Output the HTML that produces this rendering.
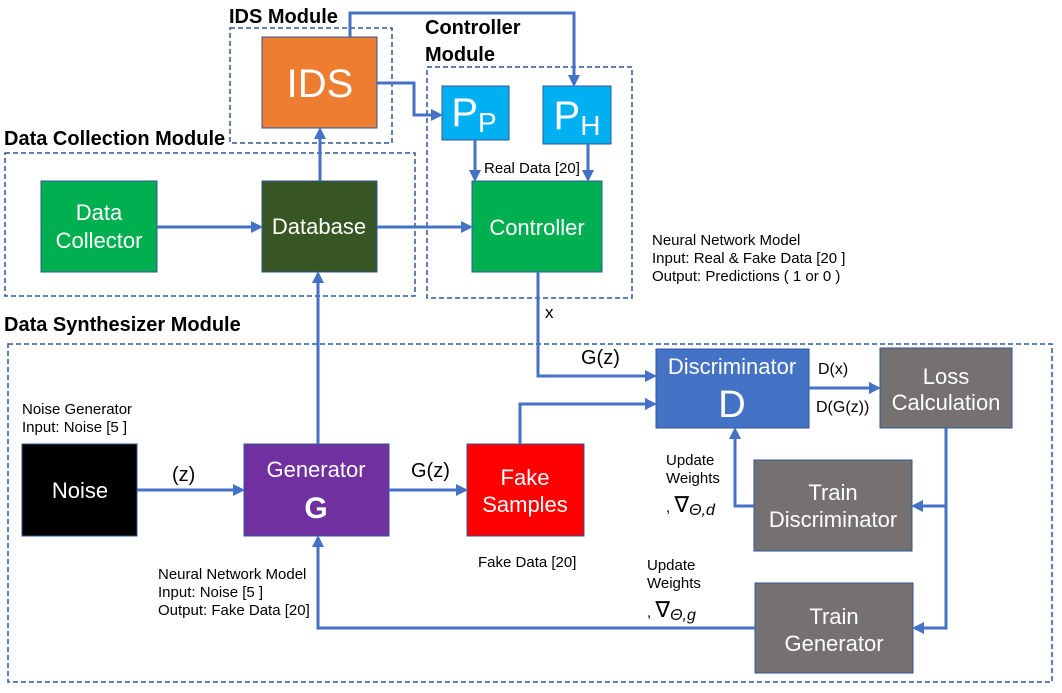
<!DOCTYPE html>
<html><head><meta charset="utf-8"><style>
body{margin:0;background:#fff}
svg text{font-family:"Liberation Sans",Arial,sans-serif}
</style></head><body>
<svg width="1062" height="688" viewBox="0 0 1062 688" xmlns="http://www.w3.org/2000/svg">
<defs><marker id="a" markerWidth="12" markerHeight="12" refX="9" refY="6" orient="auto" markerUnits="userSpaceOnUse" viewBox="0 0 12 12"><path d="M0,0 L12,6 L0,12 z" fill="#4472C4"/></marker></defs>
<g fill="none" stroke="#2F5597" stroke-width="1.5" stroke-dasharray="5,3">
<rect x="230" y="28" width="162" height="115"/>
<rect x="427" y="67" width="205" height="231"/>
<rect x="5" y="153" width="410" height="143"/>
<rect x="8" y="344" width="1044" height="338"/>
</g>
<g font-weight="bold" font-size="20" fill="#000">
<text x="229" y="23">IDS Module</text>
<text x="425" y="34">Controller</text>
<text x="425" y="61">Module</text>
<text x="4" y="145">Data Collection Module</text>
<text x="4" y="331">Data Synthesizer Module</text>
</g>
<g stroke="#2F5597" stroke-width="1">
<rect x="262" y="37" width="115" height="91" fill="#ED7D31"/>
<rect x="442" y="86" width="67" height="54" fill="#00B0F0"/>
<rect x="543" y="86" width="68" height="58" fill="#00B0F0"/>
<rect x="41" y="181" width="116" height="91" fill="#00B050"/>
<rect x="262" y="181" width="115" height="91" fill="#375623"/>
<rect x="472" y="181" width="130" height="91" fill="#00B050"/>
<rect x="22" y="444" width="115" height="92" fill="#000"/>
<rect x="244" y="444" width="145" height="92" fill="#7030A0"/>
<rect x="467" y="444" width="117" height="92" fill="#FF0000"/>
<rect x="656" y="349" width="153" height="79" fill="#4472C4"/>
<rect x="880" y="348" width="132" height="80" fill="#767171"/>
<rect x="754" y="460" width="158" height="91" fill="#767171"/>
<rect x="755" y="583" width="158" height="90" fill="#767171"/>
</g>
<g fill="#fff" text-anchor="middle" font-size="22">
<text x="320" y="97" font-size="40">IDS</text>
<text x="474" y="126" font-size="40">P<tspan font-size="28" dy="6">P</tspan></text>
<text x="577" y="129" font-size="40">P<tspan font-size="28" dy="6">H</tspan></text>
<text x="99" y="220">Data</text>
<text x="99" y="248">Collector</text>
<text x="319" y="234">Database</text>
<text x="537" y="235">Controller</text>
<text x="80" y="498">Noise</text>
<text x="316" y="477">Generator</text>
<text x="316" y="518" font-size="30" font-weight="bold">G</text>
<text x="525" y="485">Fake</text>
<text x="525" y="512">Samples</text>
<text x="732" y="374">Discriminator</text>
<text x="732" y="417" font-size="38">D</text>
<text x="946" y="384">Loss</text>
<text x="946" y="410">Calculation</text>
<text x="833" y="500">Train</text>
<text x="833" y="527">Discriminator</text>
<text x="834" y="624">Train</text>
<text x="834" y="651">Generator</text>
</g>
<g stroke="#4472C4" stroke-width="3" fill="none" marker-end="url(#a)">
<polyline points="350,37 350,13 574,13 574,84"/>
<polyline points="377,83 414,83 414,115 440,115"/>
<polyline points="475,140 475,179"/>
<polyline points="588,144 588,179"/>
<polyline points="320,181 320,130"/>
<polyline points="157,227 260,227"/>
<polyline points="377,227 470,227"/>
<polyline points="538,272 538,376 654,376"/>
<polyline points="520,444 520,404 654,404"/>
<polyline points="137,490 242,490"/>
<polyline points="389,490 465,490"/>
<polyline points="318,444 318,274"/>
<polyline points="809,388 878,388"/>
<polyline points="946,428 946,506 914,506"/>
<polyline points="946,506 946,628 915,628"/>
<polyline points="754,506 735,506 735,430"/>
<polyline points="755,628 318,628 318,538"/>
</g>
<g font-size="15" fill="#000">
<text x="484" y="173">Real Data [20]</text>
<text x="652" y="245">Neural Network Model</text>
<text x="652" y="263">Input: Real &amp; Fake Data [20 ]</text>
<text x="652" y="281">Output: Predictions ( 1 or 0 )</text>
<text x="545" y="318" font-size="17">x</text>
<text x="581" y="364" font-size="20">G(z)</text>
<text x="818" y="374" font-size="16">D(x)</text>
<text x="816" y="412" font-size="16">D(G(z))</text>
<text x="22" y="414">Noise Generator</text>
<text x="22" y="432">Input: Noise [5 ]</text>
<text x="172" y="481" font-size="20">(z)</text>
<text x="411" y="477" font-size="20">G(z)</text>
<text x="478" y="567">Fake Data [20]</text>
<text x="158" y="579">Neural Network Model</text>
<text x="158" y="597">Input: Noise [5 ]</text>
<text x="158" y="615">Output: Fake Data [20]</text>
<text x="666" y="465">Update</text>
<text x="666" y="483">Weights</text>
<text x="666" y="512">, <tspan font-size="22">∇</tspan><tspan font-style="italic" font-size="16" dy="3">Θ,d</tspan></text>
<text x="647" y="570">Update</text>
<text x="647" y="588">Weights</text>
<text x="647" y="617">, <tspan font-size="22">∇</tspan><tspan font-style="italic" font-size="16" dy="3">Θ,g</tspan></text>
</g>
</svg>
</body></html>
